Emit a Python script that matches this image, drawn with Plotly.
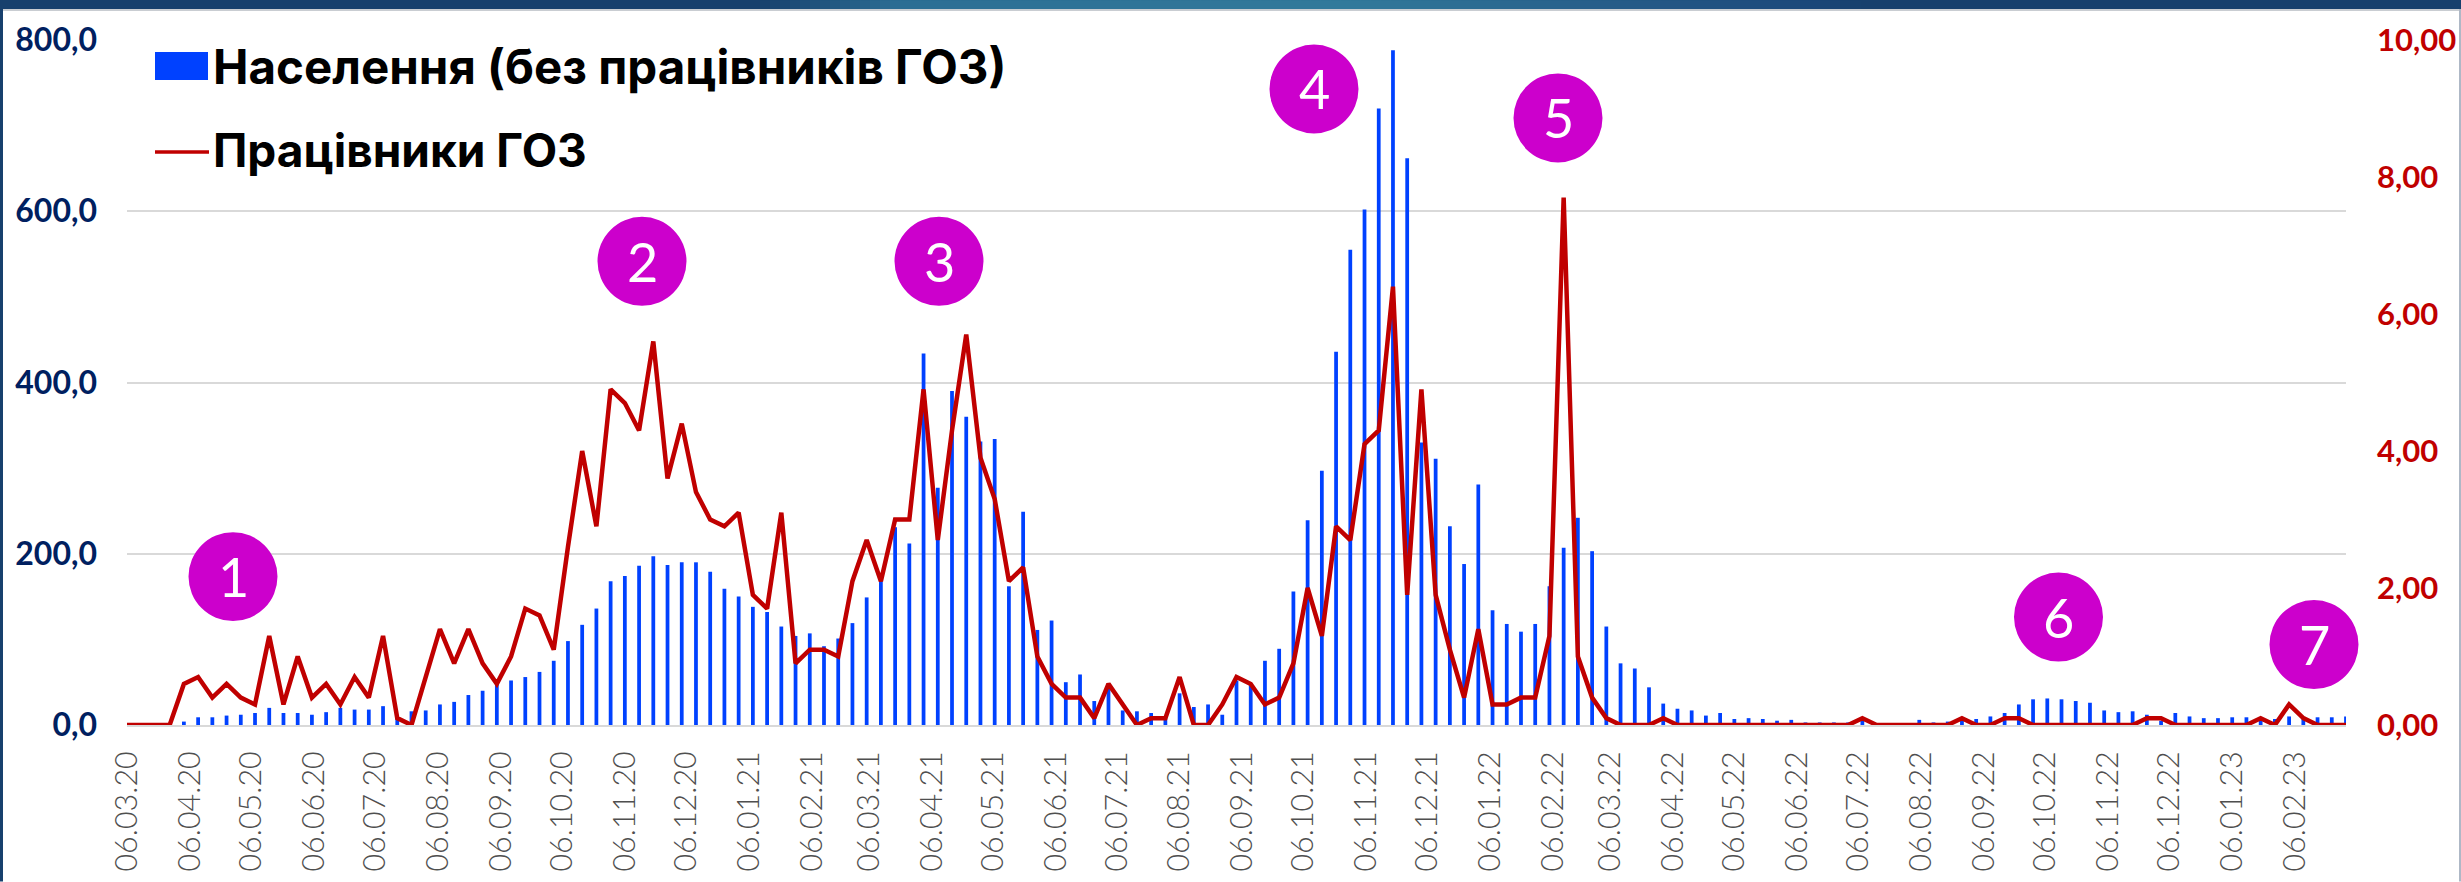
import plotly.graph_objects as go
import pandas as pd

W, H = 2461, 882
L, R, T, B = 127, 2346, 40, 725.5

start_date = "2020-03-06"
week_count = 157
dates = pd.date_range(start_date, periods=week_count, freq="7D")

population = [0,0,0,0,4,9,9,11,12,14,20,14,14,12,15,20,18,18,22,10,16,17,24,27,35,40,47,52,56,62,75,98,117,136,168,174,186,197,187,190,190,179,159,150,138,132,115,104,107,92,101,119,149,169,231,212,434,277,390,360,331,334,162,249,111,122,50,59,28,43,17,16,14,8,37,21,24,12,52,47,75,89,156,239,297,436,555,602,720,788,662,330,311,232,188,281,134,118,109,118,162,207,242,203,115,72,66,44,25,19,17,11,14,7,8,7,5,6,3,3,3,3,5,2,2,2,6,3,4,7,7,10,14,24,30,31,30,28,26,17,15,16,12,5,14,10,8,8,9,9,8,7,10,9,9,9,10]
health_workers = [0,0,0,0,0.6,0.7,0.4,0.6,0.4,0.3,1.3,0.3,1.0,0.4,0.6,0.3,0.7,0.4,1.3,0.1,0,0.7,1.4,0.9,1.4,0.9,0.6,1.0,1.7,1.6,1.1,2.6,4.0,2.9,4.9,4.7,4.3,5.6,3.6,4.4,3.4,3.0,2.9,3.1,1.9,1.7,3.1,0.9,1.1,1.1,1.0,2.1,2.7,2.1,3.0,3.0,4.9,2.7,4.3,5.7,3.9,3.3,2.1,2.3,1.0,0.6,0.4,0.4,0.1,0.6,0.3,0,0.1,0.1,0.7,0,0,0.3,0.7,0.6,0.3,0.4,0.9,2.0,1.3,2.9,2.7,4.1,4.3,6.4,1.9,4.9,1.9,1.1,0.4,1.4,0.3,0.3,0.4,0.4,1.3,7.7,1.0,0.4,0.1,
                  0,0,0,0.1,
                  0,0,0,0,0,0,0,0,0,0,0,0,0,0.1,
                  0,0,0,0,0,0,0.1,
                  0,0,0.1,0.1,
                  0,0,0,0,0,0,0,0,0.1,0.1,
                  0,0,0,0,0,0,0.1,
                  0,0.3,0.1,0,0,0]
assert len(population) == week_count and len(health_workers) == week_count

pop_name = "Населення (без працівників ГОЗ)"
hw_name = "Працівники ГОЗ"
badges = ["1", "2", "3", "4", "5", "6", "7"]
badge_centres = [(233,577),(642,261.5),(939,261.5),(1314,89),(1558,118),(2058.5,617.5),(2314,645)]

left_ticks = [0, 200, 400, 600, 800]
left_labels = ["0,0", "200,0", "400,0", "600,0", "800,0"]
right_ticks = [0, 2, 4, 6, 8, 10]
right_labels = ["0,00", "2,00", "4,00", "6,00", "8,00", "10,00"]

NAVY, RED, BLUE, MAGENTA = "#002060", "#C00000", "#0041FF", "#CC00CC"
BOLD_FONT = "Lato"
LEGEND_FONT = "Inter"

px = lambda v: (v - L) / (R - L)
py = lambda v: 1 - (v - T) / (B - T)

fig = go.Figure()
fig.add_bar(x=dates, y=population, name=pop_name, marker=dict(color=BLUE, line_width=0),
            width=1.85 * 86400000, yaxis="y", showlegend=False)
fig.add_scatter(x=dates, y=health_workers, name=hw_name, mode="lines", yaxis="y2",
                line=dict(color=RED, width=4.5, shape="linear"), showlegend=False)

def rect(x0, y0, x1, y1, color, **kw):
    return dict(type="rect", xref="paper", yref="paper", x0=px(x0), x1=px(x1), y0=py(y1), y1=py(y0),
                fillcolor=color, line_width=0, layer="above", **kw)

shapes = [
    rect(0, 0, W, 9, "#17406D"),
    rect(0, 9, W, 11, "#C9CDD2"),
    rect(0, 0, 3, H, "#17406D"),
    rect(W - 2, 9, W, H, "#AEB8C6"),
]
# top band gradient
stops = [(760,(23,64,109)),(900,(44,110,148)),(1350,(50,122,155)),(1650,(36,88,134)),(1810,(27,72,122)),(1860,(23,64,109))]
for (a, ca), (b, cb) in zip(stops, stops[1:]):
    n = max(1, int((b - a) / 10))
    for k in range(n):
        t = (k + .5) / n
        c = tuple(round(ca[j] + (cb[j] - ca[j]) * t) for j in range(3))
        shapes.append(rect(a + (b - a) * k / n, 0, a + (b - a) * (k + 1) / n + 1, 9, f"rgb{c}"))

# legend
shapes.append(rect(155, 52, 208, 80, BLUE))
shapes.append(dict(type="line", xref="paper", yref="paper", x0=px(155), x1=px(209), y0=py(152), y1=py(152),
                   line=dict(color=RED, width=3.5), layer="above"))

annotations = [
    dict(text=pop_name, x=px(211), y=py(66.5), xanchor="left", yanchor="middle", xref="paper", yref="paper",
         showarrow=False, font=dict(family=LEGEND_FONT, size=47.5, color="#000000", weight="bold")),
    dict(text=hw_name, x=px(211), y=py(150.5), xanchor="left", yanchor="middle", xref="paper", yref="paper",
         showarrow=False, font=dict(family=LEGEND_FONT, size=46, color="#000000", weight="bold")),
]
for label, (cx, cy) in zip(badges, badge_centres):
    shapes.append(dict(type="circle", xref="paper", yref="paper", x0=px(cx - 44.5), x1=px(cx + 44.5),
                       y0=py(cy + 44.5), y1=py(cy - 44.5), fillcolor=MAGENTA, line_width=0, layer="above"))
    annotations.append(dict(text=label, x=px(cx), y=py(cy), xanchor="center", yanchor="middle", xref="paper",
                            yref="paper", showarrow=False, font=dict(family="Lato", size=54, color="#FFFFFF")))

fig.update_layout(
    width=W, height=H, autosize=False,
    margin=dict(l=L, r=W - R, t=T, b=H - B, pad=0),
    paper_bgcolor="#FFFFFF", plot_bgcolor="#FFFFFF",
    barmode="overlay", showlegend=False, shapes=shapes, annotations=annotations,
    xaxis=dict(type="date", range=[start_date, dates[-1]], tick0=start_date, dtick="M1",
               tickformat="%d.%m.%y", tickangle=-90, ticks="", showgrid=False, showline=True,
               linecolor="#D9D9D9", linewidth=2, automargin=False,
               tickfont=dict(family="Lato", size=30.5, color="#4F4F4F", weight=300), ticklabelstandoff=12),
    yaxis=dict(range=[0, 800], tickvals=left_ticks, ticktext=left_labels, gridcolor="#D9D9D9", gridwidth=2,
               showline=False, zeroline=False, ticks="", automargin=False, ticklabelstandoff=29,
               tickfont=dict(family=BOLD_FONT, size=32, color=NAVY, weight="bold")),
    yaxis2=dict(range=[0, 10], tickvals=right_ticks, ticktext=right_labels, overlaying="y", side="right",
                showgrid=False, showline=False, zeroline=False, ticks="", automargin=False, ticklabelstandoff=30,
                tickfont=dict(family=BOLD_FONT, size=31, color=RED, weight="bold")),
)

fig.write_html("out.html", config={"displayModeBar": False},
               post_script="document.body.style.margin='0';document.body.style.overflow='hidden';")
